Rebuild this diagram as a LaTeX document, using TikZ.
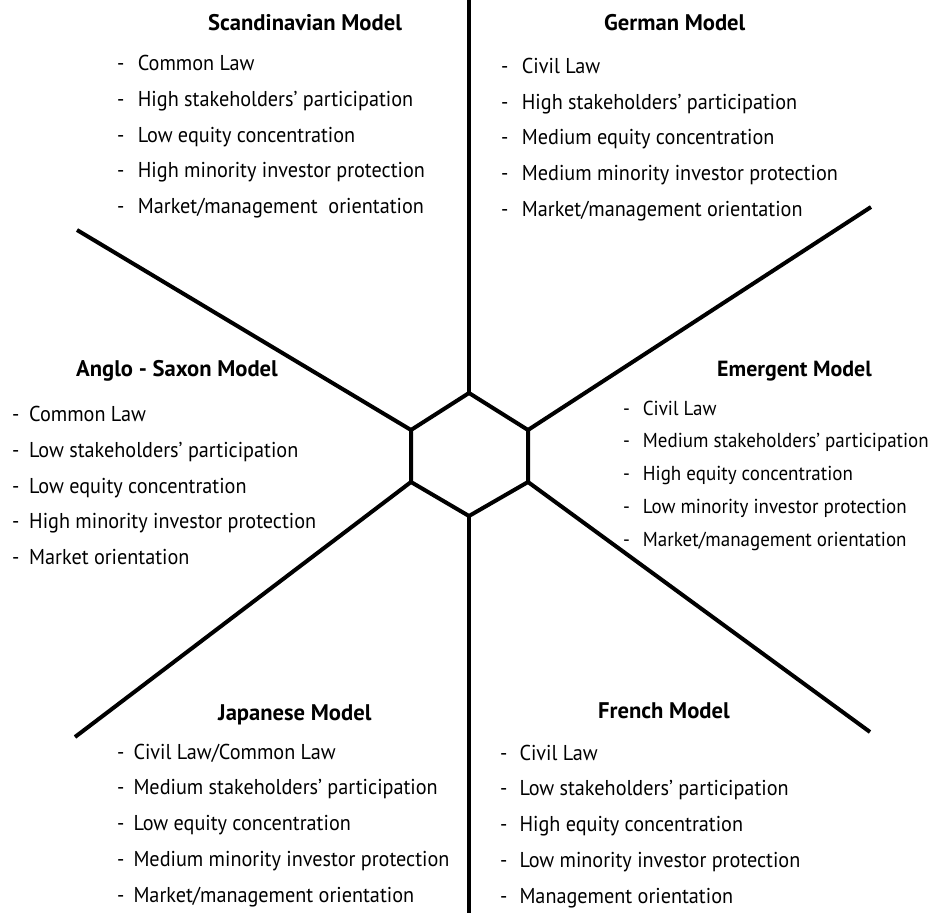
\documentclass[tikz,border=0pt]{standalone}
\usepackage{fontspec}
\setmainfont{PT Sans}
\newfontfamily\itemfont{PT Sans}[FakeStretch=0.94]
\tikzset{
  axis/.style={line width=4pt, line cap=butt},
  title/.style={font=\fontsize{22.6}{26}\selectfont\bfseries, inner sep=0pt, anchor=base west},
  item/.style={font=\itemfont\fontsize{21.5}{26}\selectfont, inner sep=0pt, anchor=base west},
  smallblock/.style={
    title/.style={font=\fontsize{21.9}{26}\selectfont\bfseries, inner sep=0pt, anchor=base west},
    item/.style={font=\itemfont\fontsize{20.2}{24}\selectfont, inner sep=0pt, anchor=base west}},
}
\newcommand\modelblock[9]{%
  \node[title] (#1-t) at (#3,#4) {#2};
  \foreach \t [count=\i] in {#9} {
    \node[item] (#1-d\i) at (#5,{#7+(\i-1)*#8}) {-};
    \node[item] (#1-\i) at (#6,{#7+(\i-1)*#8}) {\t};
  }%
}
\begin{document}
\begin{tikzpicture}[x=1pt,y=-1pt]
\useasboundingbox (0,0) rectangle (932,913);
% hexagon corners
\coordinate (ht) at (469,393);
\coordinate (hur) at (528,430);
\coordinate (hlr) at (528,482);
\coordinate (hb) at (469,516);
\coordinate (hll) at (411,482);
\coordinate (hul) at (411,430);
% outer ends
\coordinate (et) at (469,0);
\coordinate (eb) at (469,913);
\coordinate (eul) at (77,230);
\coordinate (eur) at (871,207);
\coordinate (ell) at (75,737);
\coordinate (elr) at (870,732);
\draw[axis] (ht) -- (hur) -- (hlr) -- (hb) -- (hll) -- (hul) -- cycle;
\draw[axis] (ht) -- (et);
\draw[axis] (hb) -- (eb);
\draw[axis] (hul) -- (eul);
\draw[axis] (hur) -- (eur);
\draw[axis] (hll) -- (ell);
\draw[axis] (hlr) -- (elr);

\modelblock{sc}{Scandinavian Model}{208}{30.7}{117}{137.7}{70.7}{35.65}{
  {Common Law},{High stakeholders’ participation},{Low equity concentration},
  {High minority investor protection},{Market/management\ \ orientation}}
\modelblock{ge}{German Model}{604}{30.7}{501}{521.7}{73.3}{35.7}{
  {Civil Law},{High stakeholders’ participation},{Medium equity concentration},
  {Medium minority investor protection},{Market/management orientation}}
\modelblock{an}{Anglo - Saxon Model}{76}{376}{12}{29}{421.7}{35.65}{
  {Common Law},{Low stakeholders’ participation},{Low equity concentration},
  {High minority investor protection},{Market orientation}}
\begin{scope}[smallblock]
\modelblock{em}{Emergent Model}{717}{376.7}{623}{642.7}{415}{32.9}{
  {Civil Law},{Medium stakeholders’ participation},{High equity concentration},
  {Low minority investor protection},{Market/management orientation}}
\end{scope}
\modelblock{ja}{Japanese Model}{218}{720}{117}{133.3}{759}{35.8}{
  {Civil Law/Common Law},{Medium stakeholders’ participation},{Low equity concentration},
  {Medium minority investor protection},{Market/management orientation}}
\modelblock{fr}{French Model}{598}{718.3}{500}{519.3}{760}{35.8}{
  {Civil Law},{Low stakeholders’ participation},{High equity concentration},
  {Low minority investor protection},{Management orientation}}
\end{tikzpicture}
\end{document}
